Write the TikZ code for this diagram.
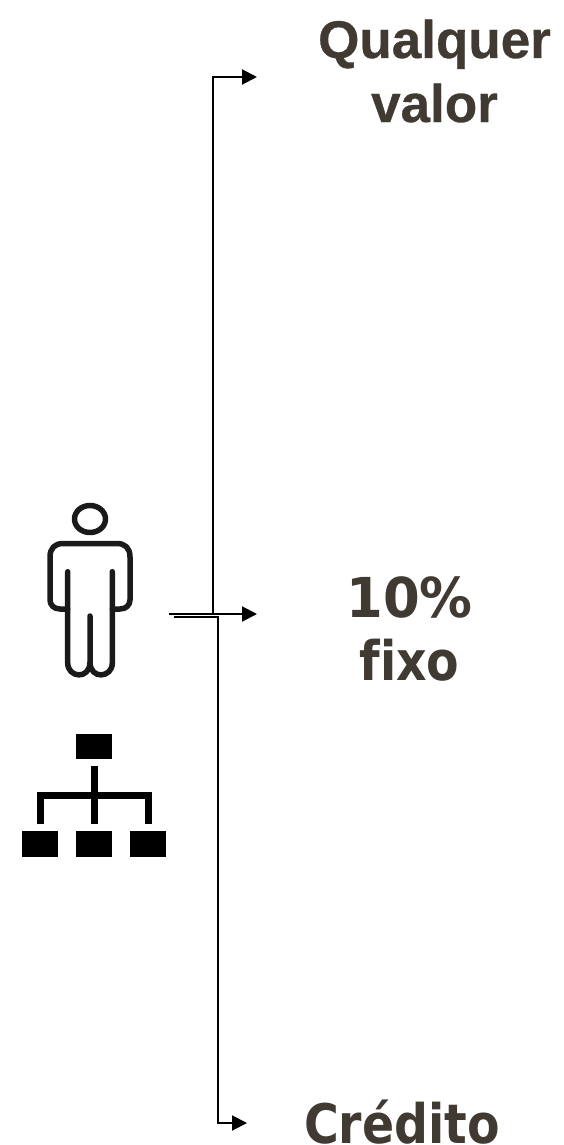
\documentclass[tikz,border=0pt]{standalone}
\usepackage{fontspec}
\setmainfont[BoldFeatures={FakeBold=0.6}]{Liberation Sans}
\newfontfamily\tahA[FakeStretch=0.87,Ligatures=NoCommon]{DejaVu Sans}
\newfontfamily\tahB[FakeStretch=0.96]{DejaVu Sans}
\usetikzlibrary{arrows.meta}
\definecolor{labelc}{HTML}{403A32}
\definecolor{iconc}{HTML}{1A1A1A}
\tikzset{
  x=1pt,y=-1pt,
  wire/.style={line width=2pt,black,-{Triangle[length=15pt,width=15pt]}},
  lab/.style={text=labelc,font=\fontsize{53}{64}\selectfont\bfseries,align=center,inner sep=0pt,anchor=base},
  box/.style={fill=black,minimum width=36pt,minimum height=25.5pt,inner sep=0pt,outer sep=0pt},
  tree/.style={line width=7pt,black},
  man/.style={line width=5.5pt,iconc,line cap=round,line join=round}
}
\begin{document}
\begin{tikzpicture}
\useasboundingbox (0,0) rectangle (563,1145);
% labels
\node[lab] (q) at (434.5,58) {Qualquer};
\node[lab] (v) at (434.5,122) {valor};
\node[lab,font=\tahB\fontsize{55}{64}\selectfont\bfseries] (d) at (409.5,617) {10\%};
\node[lab,font=\tahA\fontsize{54.5}{64}\selectfont\bfseries] (f) at (409.5,680.5) {fixo};
\node[lab,font=\tahA\fontsize{54.5}{64}\selectfont\bfseries] (c) at (402,1143) {Crédito};
% connectors
\coordinate (s1) at (169,614);
\coordinate (s2) at (174,617);
\coordinate (e1) at (257,77);
\coordinate (e2) at (257,614);
\coordinate (e3) at (247,1123);
\draw[wire] (s1) -- (e2);
\draw[wire] (213,614) -- (213,77) -- (e1);
\draw[wire] (s2) -- (217.5,617) -- (217.5,1123) -- (e3);
% person
\draw[man] (90,519) ellipse (15.5 and 13.5);
\draw[man] (67.7,571.7) -- (67.7,663)
  .. controls (67.7,678) and (90,680) .. (90,662) -- (90,616)
  (90,662) .. controls (90,680) and (112.3,678) .. (112.3,663) -- (112.3,571.7);
\draw[man] (67.7,609) -- (60,609) .. controls (54,609) and (50,605) .. (50,600) -- (50,557)
  .. controls (50,548) and (55,543.5) .. (63,543.5) -- (117,543.5)
  .. controls (125,543.5) and (130,548) .. (130,557) -- (130,600)
  .. controls (130,605) and (126,609) .. (120,609) -- (112.3,609);
% org chart
\node[box] (top) at (94,746.7) {};
\node[box] (b1) at (40,844) {};
\node[box] (b2) at (94,844) {};
\node[box] (b3) at (148,844) {};
\coordinate (hl) at (40,795);
\coordinate (hr) at (148,795);
\draw[tree] (94,766) -- (94,824);
\draw[tree] (40,824) -- (hl) -- (hr) -- (148,824);
\end{tikzpicture}
\end{document}
